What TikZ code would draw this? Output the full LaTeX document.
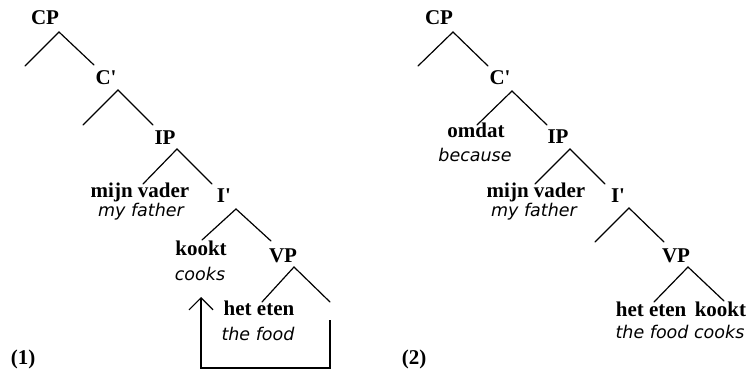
\documentclass[tikz,border=0pt]{standalone}
\usepackage{fontspec}
\setmainfont{Liberation Serif}
\newfontfamily\glossfont{DejaVu Sans}
\usetikzlibrary{arrows.meta}
\tikzset{
  lab/.style={anchor=base, inner sep=0pt, font=\bfseries\fontsize{21}{22}\selectfont},
  gl/.style={anchor=base, inner sep=0pt, font=\glossfont\itshape\fontsize{17.5}{18}\selectfont},
  branch/.style={line width=1.2pt, line cap=round},
  trace/.style={line width=1.2pt, -{Straight Barb[length=12pt,width=24pt,line width=1.2pt]}}
}
\begin{document}
\begin{tikzpicture}[x=1pt,y=-1pt]
\useasboundingbox (0,0) rectangle (752,374);
% ---------- tree (1) ----------
\node[lab] (cpA) at (45,25) {CP};
\node[lab] (cbA) at (106,85) {C\textquotesingle};
\node[lab] (ipA) at (165,145) {IP};
\node[lab] (mvA) at (140,198) {mijn vader};
\node[gl]  (mfA) at (141,217) {my father};
\node[lab] (ibA) at (224,203) {I\textquotesingle};
\node[lab] (kkA) at (201,255) {kookt};
\node[gl]  (ckA) at (200,280) {cooks};
\node[lab] (vpA) at (283,262) {VP};
\node[lab] (heA) at (259,315) {het eten};
\node[gl]  (tfA) at (258,340) {the food};
\node[lab] (n1) at (23,364) {(1)};
% branches
\coordinate (a1) at (59,32);  \coordinate (a1l) at (25,66);  \coordinate (a1r) at (94,65);
\coordinate (a2) at (118,90); \coordinate (a2l) at (83,125); \coordinate (a2r) at (153,125);
\coordinate (a3) at (177,149);\coordinate (a3l) at (143,184);\coordinate (a3r) at (212,184);
\coordinate (a4) at (236,209);\coordinate (a4l) at (202,240);\coordinate (a4r) at (271,241);
\coordinate (a5) at (294,267);\coordinate (a5l) at (262,302);\coordinate (a5r) at (330,302);
\foreach \n in {a1,a2,a3,a4,a5}{
  \draw[branch] (\n l) -- (\n) -- (\n r);
}
% movement arrow
\coordinate (tstart) at (330,320);
\coordinate (tbase) at (0,368);
\coordinate (ttip) at (201,297);
\draw[trace] (tstart) -- (tstart |- tbase) -| (ttip);
% ---------- tree (2) ----------
\node[lab] (cpB) at (439,25) {CP};
\node[lab] (cbB) at (500,85) {C\textquotesingle};
\node[lab] (omB) at (476,138) {omdat};
\node[gl]  (bcB) at (475,162) {because};
\node[lab] (ipB) at (558,144) {IP};
\node[lab] (mvB) at (536,198) {mijn vader};
\node[gl]  (mfB) at (534,217) {my father};
\node[lab] (ibB) at (618,203) {I\textquotesingle};
\node[lab] (vpB) at (676,262) {VP};
\node[lab] (hkB) at (681,316) {het eten\hspace{0.4em}kookt};
\node[gl]  (tcB) at (680,338) {the food cooks};
\node[lab] (n2) at (414,364) {(2)};
\coordinate (b1) at (453,32); \coordinate (b1l) at (418,66); \coordinate (b1r) at (488,66);
\coordinate (b2) at (512,91); \coordinate (b2l) at (477,125);\coordinate (b2r) at (547,125);
\coordinate (b3) at (570,149);\coordinate (b3l) at (535,184);\coordinate (b3r) at (605,184);
\coordinate (b4) at (629,208);\coordinate (b4l) at (595,242);\coordinate (b4r) at (664,242);
\coordinate (b5) at (688,267);\coordinate (b5l) at (654,302);\coordinate (b5r) at (724,301);
\foreach \n in {b1,b2,b3,b4,b5}{
  \draw[branch] (\n l) -- (\n) -- (\n r);
}
\end{tikzpicture}
\end{document}
